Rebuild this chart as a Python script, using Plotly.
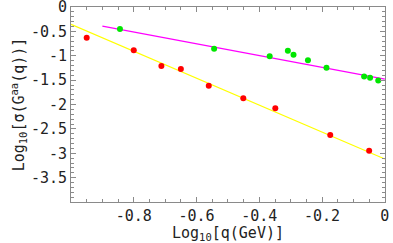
import plotly.graph_objects as go

# Red data points (log10 q, log10 sigma)
red_x = [-0.950, -0.800, -0.712, -0.650, -0.561, -0.451, -0.349, -0.174, -0.050]
red_y = [-0.630, -0.888, -1.210, -1.272, -1.614, -1.873, -2.078, -2.626, -2.948]

# Green data points
green_x = [-0.844, -0.544, -0.367, -0.309, -0.291, -0.245, -0.186, -0.066, -0.047, -0.021]
green_y = [-0.451, -0.855, -1.011, -0.896, -0.978, -1.093, -1.245, -1.422, -1.450, -1.504]

# Fit lines (endpoints)
yellow_x = [-1.0, 0.0]
yellow_y = [-0.355, -3.118]
magenta_x = [-0.90, 0.0]
magenta_y = [-0.390, -1.477]

x_ticks = [-0.8, -0.6, -0.4, -0.2, 0]
x_labels = ["-0.8", "-0.6", "-0.4", "-0.2", "0"]
y_ticks = [0, -0.5, -1, -1.5, -2, -2.5, -3, -3.5]
y_labels = ["0", "-0.5", "-1", "-1.5", "-2", "-2.5", "-3", "-3.5"]

font = "DejaVu Sans Mono"
fsize = 15

fig = go.Figure()
fig.add_trace(go.Scatter(x=yellow_x, y=yellow_y, mode="lines",
                         line=dict(color="#ffff00", width=1.3), showlegend=False))
fig.add_trace(go.Scatter(x=magenta_x, y=magenta_y, mode="lines",
                         line=dict(color="#ff00ff", width=1.3), showlegend=False))
fig.add_trace(go.Scatter(x=red_x, y=red_y, mode="markers",
                         marker=dict(color="#ff0000", size=6), showlegend=False))
fig.add_trace(go.Scatter(x=green_x, y=green_y, mode="markers",
                         marker=dict(color="#00e600", size=6), showlegend=False))

axis_common = dict(
    showgrid=False, zeroline=False, showline=True, linecolor="#8a8a8a", linewidth=1,
    mirror="ticks", ticks="inside", ticklen=5, tickcolor="#8a8a8a",
    tickfont=dict(family=font, size=fsize, color="#222"),
    ticklabeloverflow="allow", automargin=False,
)

fig.update_xaxes(range=[-1, 0.0005], tickvals=x_ticks, ticktext=x_labels,
                 minor=dict(dtick=0.05, ticks="inside", ticklen=3, tickcolor="#8a8a8a"),
                 title=dict(text="Log<sub>10</sub>[q(GeV)]", font=dict(family=font, size=fsize, color="#222"),
                            standoff=0),
                 **axis_common)
fig.update_yaxes(range=[-4, 0.002], tickvals=y_ticks, ticktext=y_labels,
                 minor=dict(dtick=0.1, ticks="inside", ticklen=3, tickcolor="#8a8a8a"),
                 title=dict(text="Log<sub>10</sub>[σ(G<sup>aa</sup>(q))]", font=dict(family=font, size=fsize, color="#222"),
                            standoff=2),
                 **axis_common)

fig.update_layout(width=393, height=243, margin=dict(l=71, r=8, t=7, b=41),
                  plot_bgcolor="white", paper_bgcolor="white")

fig.write_html("out.html", config={"displayModeBar": False},
               post_script="document.body.style.margin='0px';document.body.style.overflow='hidden';")
